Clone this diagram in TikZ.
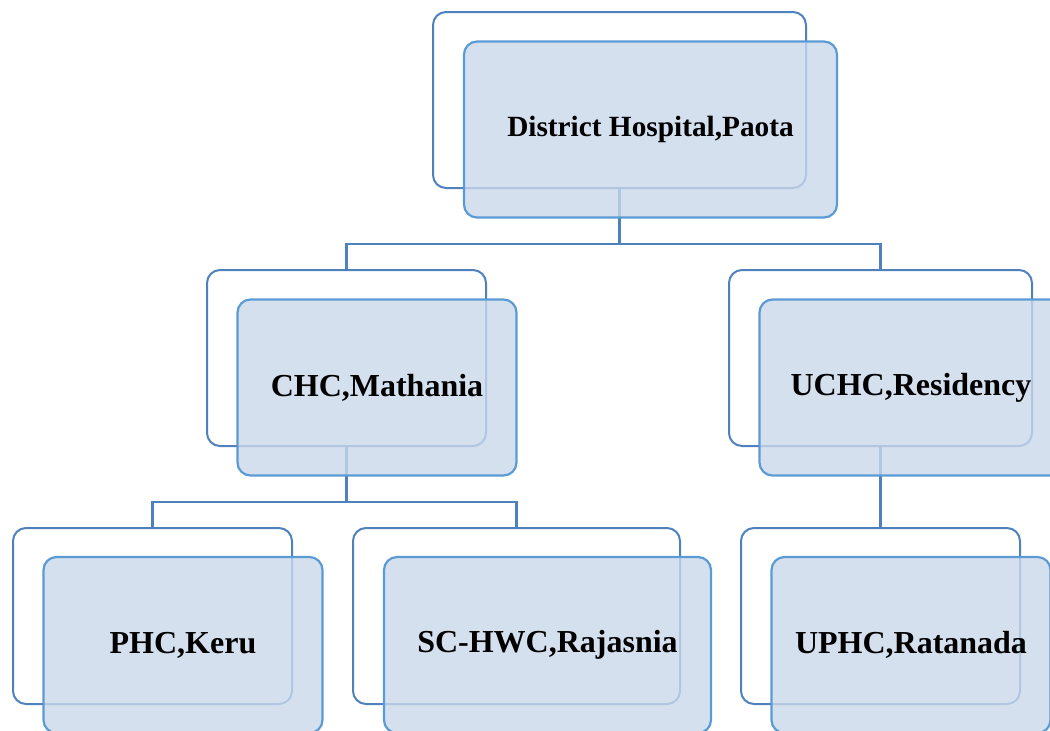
\documentclass[tikz,border=0pt]{standalone}
\usepackage{fontspec}
\setmainfont{Liberation Serif}
\definecolor{backline}{HTML}{4F81BD}
\definecolor{frontline}{HTML}{5B9BD5}
\definecolor{frontfill}{RGB}{202,216,235}
\begin{document}
\begin{tikzpicture}[x=1pt,y=-1pt,
  backbox/.style={draw=backline, line width=2pt, rounded corners=13pt, inner sep=0pt, outer sep=0pt},
  frontbox/.style={draw=frontline, line width=2.2pt, rounded corners=13pt, fill=frontfill, fill opacity=0.8, text opacity=1, inner sep=0pt, outer sep=0pt, font=\fontsize{32}{36}\selectfont\bfseries, align=center},
  topfont/.style={font=\fontsize{29.3}{33}\selectfont\bfseries},
  conn/.style={draw=backline, line width=2.4pt}
]
\useasboundingbox (0,0) rectangle (1050,731);
% back boxes
\node[backbox, minimum width=373pt, minimum height=176pt] (dhb) at (619.5,100) {};
\node[backbox, minimum width=279pt, minimum height=176pt] (chcb) at (346.5,358) {};
\node[backbox, minimum width=303pt, minimum height=176pt] (uchcb) at (880.5,358) {};
\node[backbox, minimum width=279pt, minimum height=176pt] (phcb) at (152.5,616) {};
\node[backbox, minimum width=327pt, minimum height=176pt] (scb) at (516.5,616) {};
\node[backbox, minimum width=279pt, minimum height=176pt] (uphcb) at (880.5,616) {};
% connectors
\coordinate (j1) at ([yshift=-56pt]dhb.south);
\coordinate (j2) at ([yshift=-56pt]chcb.south);
\draw[conn] (dhb.south) -- (j1);
\draw[conn] (chcb.north) |- (j1) -| (uchcb.north);
\draw[conn] (chcb.south) -- (j2);
\draw[conn] (phcb.north) |- (j2) -| (scb.north);
\draw[conn] (uchcb.south) -- (uphcb.north);
% front boxes
\node[frontbox, topfont, minimum width=373pt, minimum height=176pt] (dh) at (650.5,129.5) {\raisebox{-2pt}{District Hospital,Paota}};
\node[frontbox, minimum width=279pt, minimum height=176pt] (chc) at (377,387.5) {\raisebox{-2pt}{CHC,Mathania}};
\node[frontbox, minimum width=303pt, minimum height=176pt] (uchc) at (911,387.5) {\raisebox{-2pt}{UCHC,Residency}};
\node[frontbox, minimum width=279pt, minimum height=176pt] (phc) at (183,645) {\raisebox{-2pt}{PHC,Keru}};
\node[frontbox, minimum width=327pt, minimum height=176pt] (sc) at (547.5,645) {\raisebox{-2pt}{SC-HWC,Rajasnia}};
\node[frontbox, minimum width=279pt, minimum height=176pt] (uphc) at (911,645) {\raisebox{-2pt}{UPHC,Ratanada}};
\end{tikzpicture}
\end{document}
